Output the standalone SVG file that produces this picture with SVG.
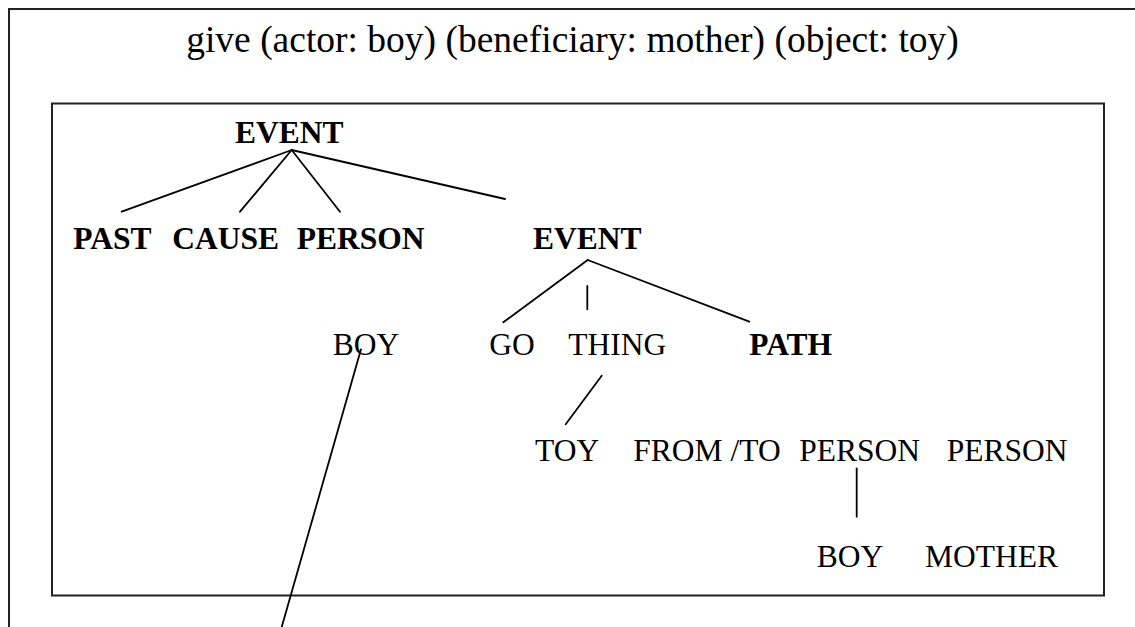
<svg xmlns="http://www.w3.org/2000/svg" width="1135" height="627" viewBox="0 0 1135 627">
  <style>
    text { font-family: "Liberation Serif", "Times New Roman", serif; font-size: 31.5px; fill: #000; }
    .b { font-weight: bold; }
    .title { font-size: 37.5px; }
    .box { fill: none; stroke: #222; stroke-width: 2; }
    .conn line { stroke: #000; stroke-width: 1.8; stroke-linecap: round; }
  </style>
  <rect width="1135" height="627" fill="#fff"/>
  <rect id="outer-box" class="box" x="9" y="9" width="1150" height="640"/>
  <text id="title" class="title" x="572.5" y="52" text-anchor="middle">give (actor: boy) (beneficiary: mother) (object: toy)</text>
  <rect id="inner-box" class="box" x="52" y="103.5" width="1052" height="492"/>

  <g class="conn" id="connectors">
    <line x1="291.7" y1="150" x2="121.7" y2="211.7"/>
    <line x1="291.7" y1="150" x2="240" y2="211.7"/>
    <line x1="291.7" y1="150" x2="340" y2="211.7"/>
    <line x1="291.7" y1="150" x2="505" y2="199"/>
    <line x1="587.7" y1="260" x2="503.3" y2="322.3"/>
    <line x1="587.7" y1="260" x2="749.3" y2="321.7"/>
    <line x1="587.3" y1="286" x2="587.3" y2="309.3"/>
    <line x1="601.7" y1="375.7" x2="565.7" y2="424.3"/>
    <line x1="856.7" y1="468.3" x2="856.7" y2="516.7"/>
    <line x1="361" y1="349.3" x2="278" y2="640"/>
  </g>

  <g id="n-event1"><text class="b" x="235" y="142.7">EVENT</text></g>
  <g id="n-past"><text class="b" x="73.3" y="249">PAST</text></g>
  <g id="n-cause"><text class="b" x="172.3" y="249">CAUSE</text></g>
  <g id="n-person1"><text class="b" x="296.7" y="249">PERSON</text></g>
  <g id="n-event2"><text class="b" x="533" y="249">EVENT</text></g>
  <g id="n-boy1"><text x="332.7" y="355">BOY</text></g>
  <g id="n-go"><text x="489.3" y="355">GO</text></g>
  <g id="n-thing"><text x="568.3" y="355">THING</text></g>
  <g id="n-path"><text class="b" x="749.3" y="355">PATH</text></g>
  <g id="n-toy"><text x="535" y="461">TOY</text></g>
  <g id="n-fromto"><text x="633.3" y="461">FROM /TO</text></g>
  <g id="n-person2"><text x="799.3" y="461">PERSON</text></g>
  <g id="n-person3"><text x="946.7" y="461">PERSON</text></g>
  <g id="n-boy2"><text x="816.7" y="566.7">BOY</text></g>
  <g id="n-mother"><text x="925" y="566.7">MOTHER</text></g>
</svg>
